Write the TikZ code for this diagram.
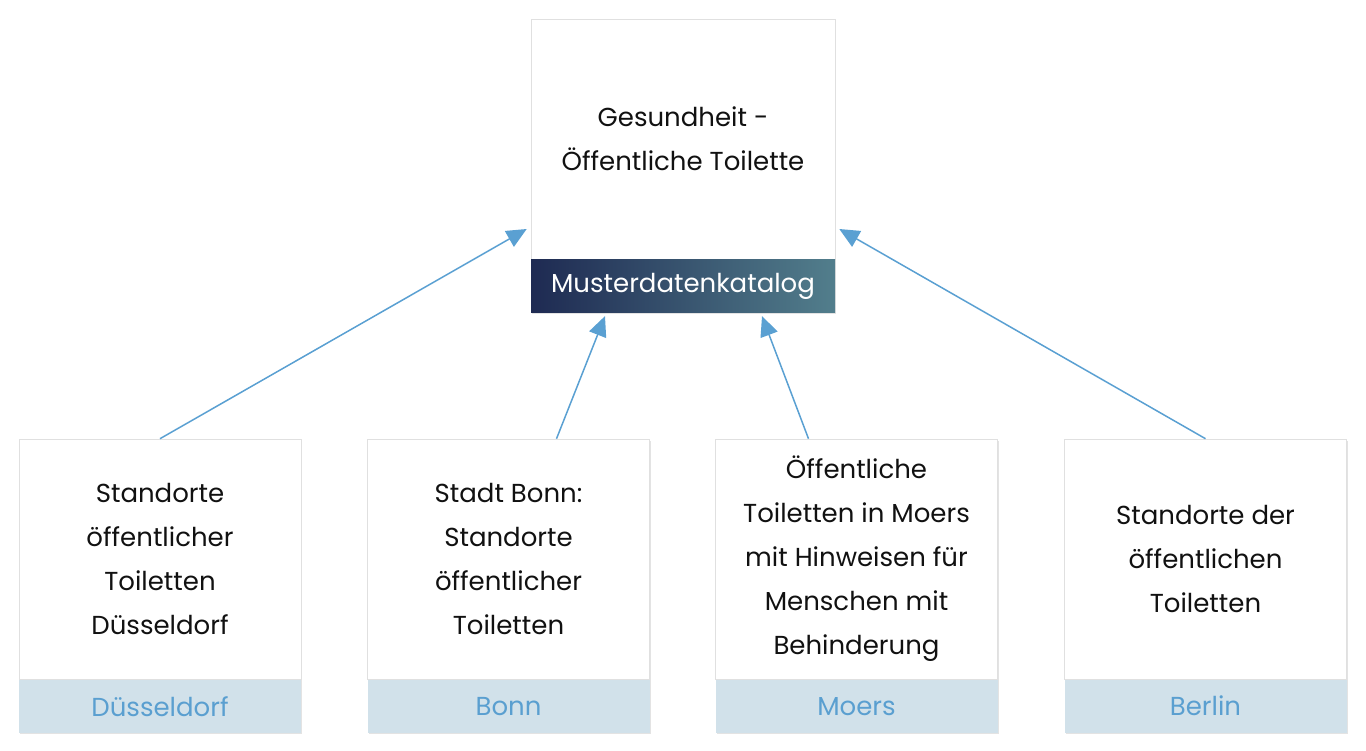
\documentclass[tikz,border=0pt]{standalone}
\usepackage{fontspec}
\setmainfont{Poppins}
\usetikzlibrary{arrows.meta,positioning,shadows}
\definecolor{ink}{HTML}{111111}
\definecolor{linkc}{HTML}{5AA0D2}
\definecolor{cityfill}{HTML}{D1E1EA}
\definecolor{citytext}{HTML}{5A9FD0}
\definecolor{gradl}{HTML}{1E2A52}
\definecolor{gradr}{HTML}{527E8C}
\definecolor{edge}{HTML}{E0E0E0}
\tikzset{
  card/.style={draw=edge,fill=white,line width=0.3pt,minimum width=141pt,minimum height=120pt,
    align=center,inner sep=0pt,font=\fontsize{13}{22}\selectfont,text=ink,
    drop shadow={shadow xshift=0.6pt,shadow yshift=-0.8pt,opacity=0.22}},
  topcard/.style={card,minimum width=152pt},
  city/.style={fill=cityfill,minimum width=141pt,minimum height=26.5pt,inner sep=0pt,
    font=\fontsize{13}{16}\selectfont,text=citytext,
    drop shadow={shadow xshift=0.6pt,shadow yshift=-0.8pt,opacity=0.22}},
  catband/.style={city,minimum width=152pt,left color=gradl,right color=gradr,text=white},
  link/.style={-{Triangle[length=10pt,width=9pt]},line width=0.75pt,color=linkc}
}
\begin{document}
\begin{tikzpicture}[x=0.5pt,y=-0.5pt]
  \useasboundingbox (0,0) rectangle (1366,750);
  % catalogue entry
  \node[topcard] (mdk) at (683,139) {Gesundheit -\\Öffentliche Toilette};
  \node[catband,below=0pt of mdk] (mdkband) {Musterdatenkatalog};
  % city data sets
  \node[card] (dus) at (160,559) {Standorte\\öffentlicher\\Toiletten\\Düsseldorf};
  \node[city,below=0pt of dus] (dusband) {Düsseldorf};
  \node[card] (bonn) at (508.5,559) {Stadt Bonn:\\Standorte\\öffentlicher\\Toiletten};
  \node[city,below=0pt of bonn] (bonnband) {Bonn};
  \node[card] (moers) at (856.5,559) {Öffentliche\\Toiletten in Moers\\mit Hinweisen für\\Menschen mit\\Behinderung};
  \node[city,below=0pt of moers] (moersband) {Moers};
  \node[card] (ber) at (1205.5,559) {Standorte der\\öffentlichen\\Toiletten};
  \node[city,below=0pt of ber] (berband) {Berlin};
  % links to the catalogue
  \draw[link] (dus.north) -- ([xshift=-2pt,yshift=-45pt]mdk.west);
  \draw[link] ([xshift=24pt]bonn.north) -- ([xshift=-39pt,yshift=-1.5pt]mdkband.south);
  \draw[link] ([xshift=-24pt]moers.north) -- ([xshift=39.5pt,yshift=-1.5pt]mdkband.south);
  \draw[link] (ber.north) -- ([xshift=2pt,yshift=-45pt]mdk.east);
\end{tikzpicture}
\end{document}
